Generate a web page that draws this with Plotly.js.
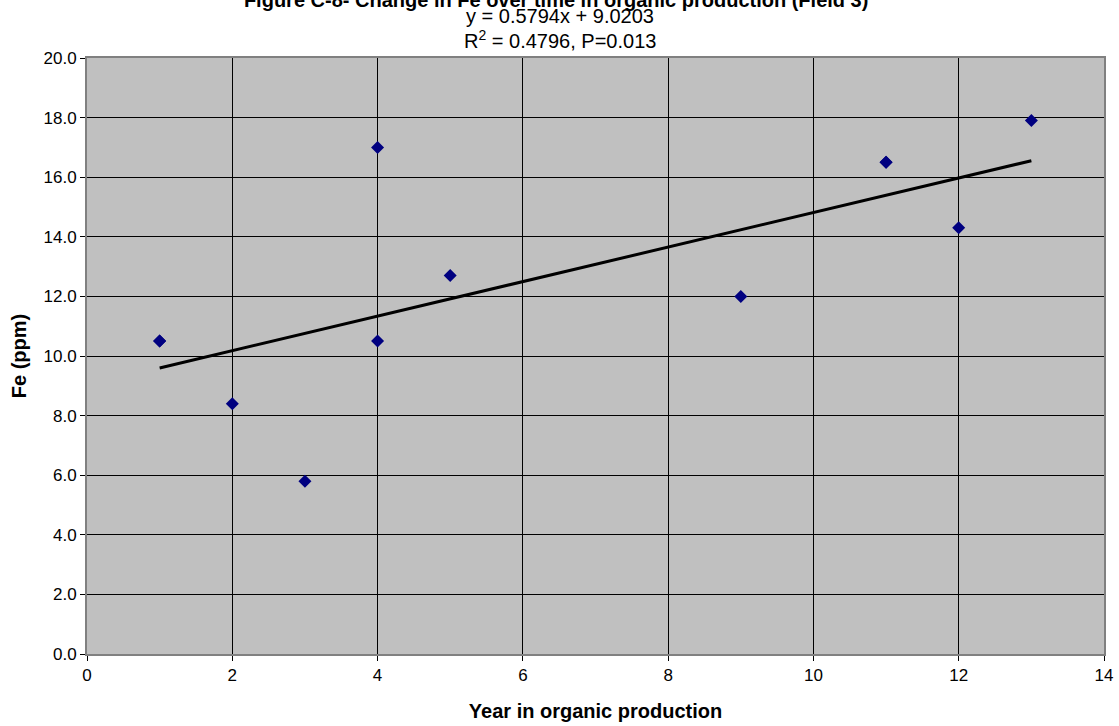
<!DOCTYPE html>
<html>
<head>
<meta charset="utf-8">
<script src="https://cdn.plot.ly/plotly-3.0.1.min.js"></script>
<style>html,body{margin:0;padding:0;background:#fff;}#chart{width:1119px;height:726px;}</style>
</head>
<body>
<div id="chart"></div>
<script>
const years = [1, 1, 2, 3, 4, 4, 5, 9, 11, 11, 12, 13];
const fe = [10.5, 10.5, 8.4, 5.8, 17.0, 10.5, 12.7, 12.0, 16.5, 16.5, 14.3, 17.9];
const slope = 0.5794;
const intercept = 9.0203;
const trendX = [1, 13];
const trendY = trendX.map(x => slope * x + intercept);
const yTicks = [0, 2, 4, 6, 8, 10, 12, 14, 16, 18, 20];
const xTicks = [0, 2, 4, 6, 8, 10, 12, 14];

const data = [
  {x: years, y: fe, type: 'scatter', mode: 'markers',
   marker: {symbol: 'diamond', color: '#000080', size: 10}, showlegend: false, hoverinfo: 'x+y'},
  {x: trendX, y: trendY, type: 'scatter', mode: 'lines',
   line: {color: '#000000', width: 3}, showlegend: false}
];

const layout = {
  width: 1119, height: 726,
  margin: {l: 87, r: 15, t: 58, b: 72},
  paper_bgcolor: '#ffffff',
  plot_bgcolor: '#c0c0c0',
  font: {family: 'Liberation Sans, Arial, sans-serif', color: '#000', size: 17},
  title: {text: '<b>Figure C-8- Change in Fe over time in organic production (Field 3)</b>',
          x: 0.497, xanchor: 'center', y: 1.0, yanchor: 'middle', yref: 'container',
          font: {size: 20, family: 'Liberation Sans, Arial, sans-serif'}},
  xaxis: {range: [0, 14], tickvals: xTicks, ticks: 'outside', ticklen: 5, tickcolor: '#000',
          showgrid: true, gridcolor: '#000', gridwidth: 1, zeroline: false,
          showline: true, linecolor: '#808080', linewidth: 2, mirror: true,
          tickfont: {size: 17},
          title: {text: '<b>Year in organic production</b>', font: {size: 20}, standoff: 20}},
  yaxis: {range: [0, 20], tickvals: yTicks, tickformat: '.1f', ticks: 'outside', ticklen: 5, tickcolor: '#000',
          showgrid: true, gridcolor: '#000', gridwidth: 1, zeroline: false,
          showline: true, linecolor: '#808080', linewidth: 2, mirror: true,
          tickfont: {size: 17},
          title: {text: '<b>Fe (ppm)</b>', font: {size: 20}, standoff: 12}},
  annotations: [
    {text: 'y = ' + slope + 'x + ' + intercept, xref: 'paper', yref: 'paper', x: 0.465, y: 1.071,
     xanchor: 'center', yanchor: 'middle', showarrow: false, font: {size: 20}},
    {text: 'R<sup>2</sup> = 0.4796, P=0.013', xref: 'paper', yref: 'paper', x: 0.465, y: 1.031,
     xanchor: 'center', yanchor: 'middle', showarrow: false, font: {size: 20}}
  ]
};
Plotly.newPlot('chart', data, layout, {displayModeBar: false});
</script>
</body>
</html>
